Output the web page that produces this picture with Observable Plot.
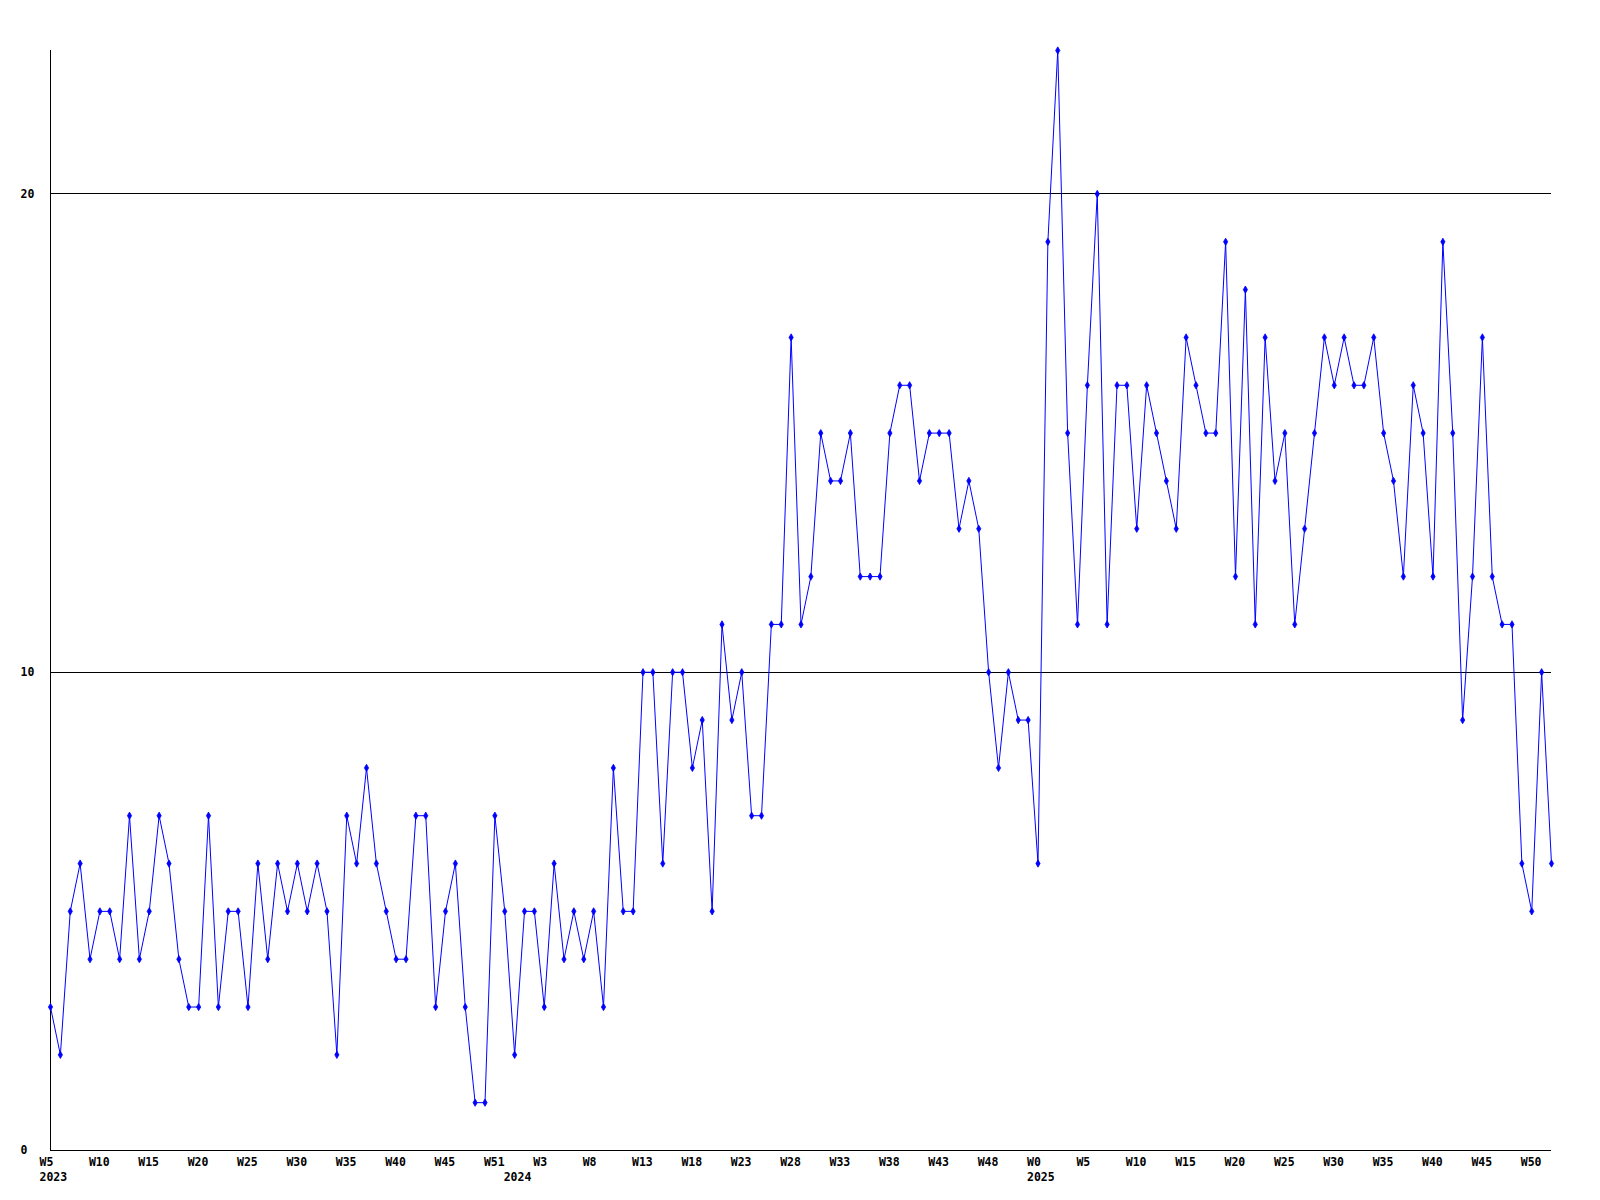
<!DOCTYPE html>
<html>
<head>
<meta charset="utf-8">
<script src="https://cdn.jsdelivr.net/npm/d3@7"></script>
<script src="https://cdn.jsdelivr.net/npm/@observablehq/plot@0.6"></script>
<style>
  html, body { margin: 0; padding: 0; background: #ffffff; }
  #chart svg { display: block; }
</style>
</head>
<body>
<div id="chart"></div>
<script>
// Weekly values, 2023 W5 .. 2025 W52 (one per week, index order)
const values = [
  3,2,5,6,4,5,5,4,7,4,5,7,6,4,3,3,7,3,5,5,3,6,4,6,5,6,5,6,5,2,
  7,6,8,6,5,4,4,7,7,3,5,6,3,1,1,7,5,2,5,5,3,6,4,5,4,5,3,8,
  5,5,10,10,6,10,10,8,9,5,11,9,10,7,7,11,11,17,
  11,12,15,14,14,15,12,12,12,15,16,16,14,15,15,15,13,14,
  13,10,8,10,9,9,6,19,23,15,11,16,20,11,16,16,
  13,16,15,14,13,17,16,15,15,19,12,18,11,17,14,15,11,
  13,15,17,16,17,16,16,17,15,14,12,16,15,12,19,15,
  9,12,17,12,11,11,6,5,10,6
];

// x-axis week tick labels (every 5th week) and their week index
const weekTickIndex = [0,5,10,15,20,25,30,35,40,45,50,55,60,65,70,75,80,85,90,95,100,105,110,115,120,125,130,135,140,145,150];
const weekTickLabels = ["W5","W10","W15","W20","W25","W30","W35","W40","W45","W51",
  "W3","W8","W13","W18","W23","W28","W33","W38","W43","W48",
  "W0","W5","W10","W15","W20","W25","W30","W35","W40","W45","W50"];

// year labels at the first week of each year
const yearIndex = [0, 47, 100];
const yearLabels = ["2023", "2024", "2025"];

// y-axis ticks
const yTicks = [0, 10, 20];
const yMax = 23;

const data = values.map((v, i) => ({i, v}));
const weekTicks = weekTickIndex.map((i, k) => ({i, label: weekTickLabels[k]}));
const yearTicks = yearIndex.map((i, k) => ({i, label: yearLabels[k]}));

const font = "'DejaVu Sans Mono', monospace";

const chart = Plot.plot({
  width: 1600,
  height: 1200,
  marginLeft: 50,
  marginRight: 49,
  marginTop: 50,
  marginBottom: 50,
  style: {background: "#ffffff", fontFamily: font},
  x: {domain: [0, values.length - 1], axis: null},
  y: {domain: [0, yMax], axis: null},
  marks: [
    Plot.ruleY(yTicks.filter(d => d > 0), {stroke: "#000000", strokeWidth: 1, shapeRendering: "crispEdges"}),
    Plot.ruleY([0], {stroke: "#000000", strokeWidth: 1, shapeRendering: "crispEdges"}),
    Plot.ruleX([0], {stroke: "#000000", strokeWidth: 1, shapeRendering: "crispEdges"}),
    Plot.line(data, {x: "i", y: "v", stroke: "#0000ff", strokeWidth: 1}),
    Plot.dot(data, {x: "i", y: "v", symbol: "diamond", r: 2.2, fill: "#0000ff", stroke: "#0000ff", strokeWidth: 0.8}),
    Plot.text(yTicks, {
      y: d => d, text: d => String(d), frameAnchor: "left", dx: -30,
      textAnchor: "start", lineAnchor: "middle",
      fontSize: 11.5, fontWeight: "bold", fontFamily: font, fill: "#000000"
    }),
    Plot.text(weekTicks, {
      x: "i", y: () => 0, text: "label", dx: -11, dy: 7,
      textAnchor: "start", lineAnchor: "top",
      fontSize: 11.5, fontWeight: "bold", fontFamily: font, fill: "#000000"
    }),
    Plot.text(yearTicks, {
      x: "i", y: () => 0, text: "label", dx: -11, dy: 22,
      textAnchor: "start", lineAnchor: "top",
      fontSize: 11.5, fontWeight: "bold", fontFamily: font, fill: "#000000"
    })
  ]
});

document.getElementById("chart").appendChild(chart);
</script>
</body>
</html>
